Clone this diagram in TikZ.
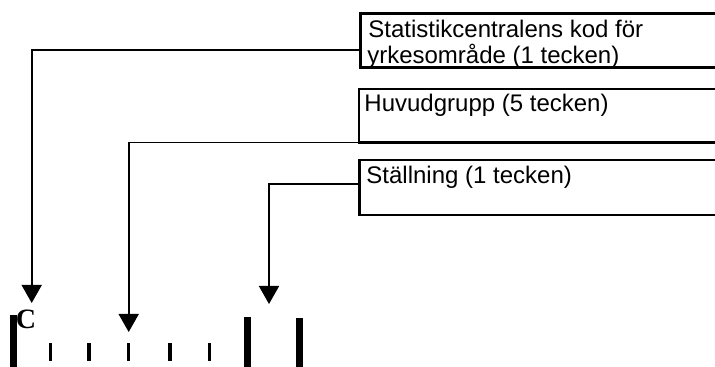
\documentclass[tikz,border=0pt]{standalone}
\usepackage{fontspec}
\setmainfont{Liberation Sans}
\newfontfamily\cfont{Liberation Serif}
\usetikzlibrary{arrows.meta,calc}
\begin{document}
\begin{tikzpicture}[x=0.75pt,y=-0.75pt,
  box/.style={draw,line width=1.8pt,rectangle,inner sep=0pt,outer sep=0pt,anchor=north west,minimum width=290pt},
  lbl/.style={anchor=base west,inner sep=0pt,font=\fontsize{18}{20}\selectfont},
  conn/.style={line width=1.25pt,-{Triangle[width=15pt,length=13.5pt]}},
  smalltick/.style={line width=2.6pt},
  bigbar/.style={line width=4.8pt}]
\clip (0,0) rectangle (715,367);
% boxes
\node[box,minimum height=40.5pt] (b1) at (360.5,13.7) {};
\node[box,minimum height=40.0pt] (b2) at (359,89.3) {};
\node[box,minimum height=41.25pt] (b3) at (359.5,160) {};
% texts
\node[lbl] (t1a) at (368.2,37.7) {Statistikcentralens kod för};
\node[lbl] (t1b) at (367,63.5) {yrkesområde (1 tecken)};
\node[lbl] (t2) at (364.2,112) {Huvudgrupp (5 tecken)};
\node[lbl] (t3) at (366.2,183.5) {Ställning (1 tecken)};
% arrow targets
\coordinate (tip1) at (31.7,303);
\coordinate (tip2) at (128.7,332);
\coordinate (tip3) at (269,304);
% connectors
\draw[conn] ($(b1.north west)!0.672!(b1.south west)$) -| (tip1);
\draw[conn] (b2.south west) -| (tip2);
\draw[conn] ($(b3.north west)!0.436!(b3.south west)$) -| (tip3);
% code field
\node[anchor=base west,inner sep=0pt,font=\cfont\bfseries\fontsize{21}{21}\selectfont] (c) at (15.7,329) {C};
\draw[bigbar] (13.3,315) -- (13.3,370);
\draw[bigbar] (247.3,317) -- (247.3,370);
\draw[bigbar] (299.3,318) -- (299.3,370);
\foreach \x in {50.3,89,128.7,170,209.3}
  \draw[smalltick] (\x,343.3) -- (\x,361);
\end{tikzpicture}
\end{document}
